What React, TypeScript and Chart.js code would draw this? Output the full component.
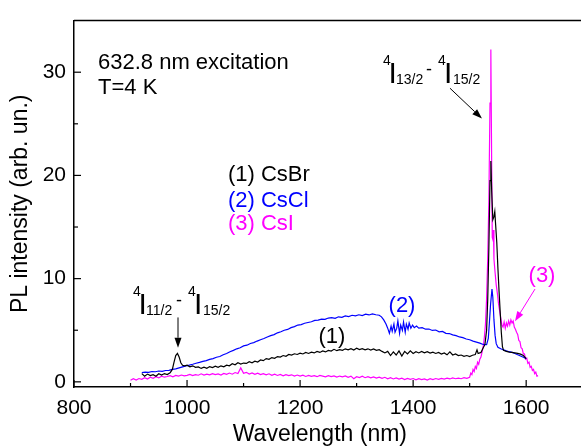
import React, { useEffect, useRef } from "react";
import { Chart, registerables } from "chart.js";

Chart.register(...registerables);

const FONT = "'Liberation Sans', Arial, Helvetica, sans-serif";

// ---- Spectra: [wavelength (nm), PL intensity (arb. un.)] ----
const csbrSpectrum: [number, number][] = [
  [920, 0.8], [925, 0.55], [930, 0.75], [935, 0.6], [940, 0.7], [945, 0.55], [950, 0.78], [955, 0.65],
  [960, 0.8], [965, 0.7], [970, 0.88], [974, 1.2], [977, 1.9], [980, 2.55], [983, 2.75], [986, 2.4],
  [989, 1.85], [992, 1.6], [996, 1.55], [1000, 1.62], [1005, 1.45], [1010, 1.55], [1015, 1.4], [1020, 1.45],
  [1025, 1.3], [1030, 1.42], [1035, 1.32], [1040, 1.48], [1045, 1.38], [1050, 1.52], [1055, 1.4], [1060, 1.55],
  [1065, 1.45], [1070, 1.62], [1075, 1.55], [1080, 1.75], [1085, 1.65], [1090, 1.85], [1095, 1.72], [1100, 1.82],
  [1105, 1.78], [1110, 1.95], [1115, 1.85], [1120, 2.0], [1125, 1.92], [1130, 2.12], [1135, 2.05], [1140, 2.25],
  [1145, 2.18], [1150, 2.35], [1155, 2.28], [1160, 2.45], [1165, 2.4], [1170, 2.55], [1175, 2.48], [1180, 2.65],
  [1185, 2.6], [1190, 2.72], [1195, 2.65], [1200, 2.78], [1205, 2.7], [1210, 2.85], [1215, 2.75], [1220, 2.88],
  [1225, 2.8], [1230, 2.95], [1235, 2.85], [1240, 3.0], [1245, 2.9], [1250, 3.05], [1255, 2.98], [1260, 3.15],
  [1265, 3.02], [1270, 3.12], [1275, 3.05], [1280, 3.2], [1285, 3.1], [1290, 3.22], [1295, 3.08], [1300, 3.25],
  [1305, 3.12], [1310, 3.22], [1315, 3.1], [1320, 3.2], [1325, 3.08], [1330, 3.18], [1335, 3.05], [1340, 3.12],
  [1345, 2.95], [1350, 2.8], [1355, 2.95], [1360, 2.55], [1365, 2.9], [1370, 2.6], [1375, 3.0], [1380, 2.5],
  [1385, 2.95], [1390, 2.7], [1395, 3.0], [1400, 2.75], [1405, 2.92], [1410, 2.8], [1415, 2.95], [1420, 2.82],
  [1425, 2.92], [1430, 2.78], [1435, 2.88], [1440, 2.75], [1445, 2.85], [1450, 2.7], [1455, 2.8], [1460, 2.62],
  [1465, 2.9], [1470, 2.6], [1475, 2.7], [1480, 2.55], [1485, 2.6], [1490, 2.48], [1495, 2.55], [1500, 2.45],
  [1505, 2.58], [1510, 2.65], [1513, 3.1], [1515, 2.75], [1520, 2.85], [1524, 3.3], [1527, 3.6], [1530, 5.0],
  [1532, 8.0], [1534, 13.0], [1536, 19.5], [1537.5, 21.4], [1539, 18.5], [1541, 15.7], [1543, 16.0], [1544.5, 16.5],
  [1546, 15.2], [1548, 13.5], [1550, 11.0], [1552, 8.8], [1554, 6.8], [1556, 4.8], [1558, 3.4], [1560, 3.05],
  [1565, 2.95], [1570, 2.88], [1575, 2.85], [1580, 2.8], [1585, 2.75], [1590, 2.68], [1595, 2.55], [1600, 2.25],
];

const csclSpectrum: [number, number][] = [
  [920, 0.9], [926, 0.95], [932, 0.92], [938, 1.0], [944, 0.98], [950, 1.05], [956, 1.02], [962, 1.1],
  [968, 1.12], [974, 1.2], [980, 1.25], [986, 1.35], [992, 1.45], [998, 1.55], [1004, 1.62], [1010, 1.7],
  [1016, 1.8], [1022, 1.88], [1028, 1.98], [1034, 2.05], [1040, 2.18], [1046, 2.25], [1052, 2.38], [1058, 2.45],
  [1064, 2.62], [1070, 2.75], [1076, 2.92], [1082, 3.05], [1088, 3.2], [1094, 3.3], [1100, 3.48], [1106, 3.55],
  [1112, 3.72], [1118, 3.8], [1124, 3.95], [1130, 4.08], [1136, 4.2], [1142, 4.35], [1148, 4.48], [1154, 4.58],
  [1160, 4.75], [1166, 4.85], [1172, 5.0], [1178, 5.08], [1184, 5.25], [1190, 5.35], [1196, 5.5], [1202, 5.55],
  [1208, 5.68], [1214, 5.75], [1220, 5.82], [1226, 5.95], [1232, 5.98], [1238, 6.08], [1244, 6.05], [1250, 6.18],
  [1256, 6.22], [1262, 6.15], [1268, 6.3], [1274, 6.25], [1280, 6.38], [1286, 6.32], [1292, 6.45], [1298, 6.4],
  [1304, 6.5], [1310, 6.42], [1316, 6.55], [1322, 6.48], [1328, 6.58], [1334, 6.5], [1340, 6.45], [1344, 6.3],
  [1348, 6.0], [1352, 5.6], [1355, 5.2], [1358, 4.7], [1361, 5.4], [1363, 4.9], [1366, 5.6], [1368, 4.8],
  [1371, 5.2], [1373, 5.9], [1376, 4.7], [1378, 5.5], [1381, 5.0], [1383, 5.8], [1386, 4.8], [1388, 5.6],
  [1391, 5.1], [1393, 5.7], [1396, 5.2], [1399, 5.5], [1402, 5.25], [1406, 5.4], [1410, 5.2], [1416, 5.25],
  [1422, 5.1], [1428, 5.12], [1434, 4.98], [1440, 5.02], [1446, 4.85], [1452, 4.88], [1458, 4.7], [1464, 4.68],
  [1470, 4.55], [1476, 4.48], [1482, 4.35], [1488, 4.28], [1494, 4.15], [1500, 4.08], [1506, 3.95], [1512, 3.85],
  [1518, 3.75], [1524, 3.62], [1530, 3.6], [1533, 4.2], [1535, 5.8], [1537, 7.5], [1539.5, 9.0], [1541, 8.2],
  [1543, 6.0], [1545, 4.5], [1547, 3.7], [1550, 3.35], [1555, 3.2], [1560, 3.1], [1565, 3.0], [1570, 2.92],
  [1575, 2.85], [1580, 2.75], [1585, 2.62], [1590, 2.5], [1595, 2.38], [1600, 2.25],
];

const csiSpectrum: [number, number][] = [
  [900, 0.15], [905, 0.3], [910, 0.18], [915, 0.32], [920, 0.25], [925, 0.4], [930, 0.28], [935, 0.45],
  [940, 0.35], [945, 0.5], [950, 0.38], [955, 0.55], [960, 0.45], [965, 0.52], [970, 0.6], [975, 0.48],
  [980, 0.62], [985, 0.55], [990, 0.66], [995, 0.58], [1000, 0.63], [1005, 0.72], [1010, 0.6], [1015, 0.7],
  [1020, 0.64], [1025, 0.78], [1030, 0.66], [1035, 0.74], [1040, 0.68], [1045, 0.8], [1050, 0.7], [1055, 0.76],
  [1060, 0.66], [1065, 0.82], [1070, 0.72], [1075, 0.85], [1080, 0.74], [1085, 0.9], [1090, 0.8], [1095, 1.35],
  [1100, 0.82], [1105, 0.92], [1110, 0.76], [1115, 0.86], [1120, 0.72], [1125, 0.84], [1130, 0.7], [1135, 0.8],
  [1140, 0.68], [1145, 0.78], [1150, 0.64], [1155, 0.74], [1160, 0.62], [1165, 0.72], [1170, 0.58], [1175, 0.7],
  [1180, 0.6], [1185, 0.68], [1190, 0.56], [1195, 0.66], [1200, 0.55], [1205, 0.64], [1210, 0.52], [1215, 0.62],
  [1220, 0.54], [1225, 0.6], [1230, 0.5], [1235, 0.62], [1240, 0.55], [1245, 0.48], [1250, 0.6], [1255, 0.5],
  [1260, 0.58], [1265, 0.46], [1270, 0.56], [1275, 0.48], [1280, 0.58], [1285, 0.44], [1290, 0.55], [1295, 0.3],
  [1300, 0.5], [1305, 0.42], [1310, 0.54], [1315, 0.4], [1320, 0.5], [1325, 0.38], [1330, 0.48], [1335, 0.36],
  [1340, 0.46], [1345, 0.34], [1350, 0.44], [1355, 0.3], [1360, 0.4], [1365, 0.28], [1370, 0.38], [1375, 0.26],
  [1380, 0.36], [1385, 0.22], [1390, 0.34], [1395, 0.24], [1400, 0.32], [1405, 0.2], [1410, 0.3], [1415, 0.22],
  [1420, 0.28], [1425, 0.18], [1430, 0.3], [1435, 0.22], [1440, 0.32], [1445, 0.24], [1450, 0.34], [1455, 0.26],
  [1460, 0.36], [1465, 0.28], [1470, 0.38], [1475, 0.3], [1480, 0.36], [1485, 0.3], [1490, 0.4], [1495, 0.34],
  [1500, 0.45], [1502, 0.85], [1504, 0.7], [1506, 1.2], [1508, 1.0], [1510, 1.5], [1512, 1.3], [1514, 1.9],
  [1516, 1.7], [1518, 2.2], [1520, 2.4], [1522, 2.9], [1524, 3.4], [1526, 4.3], [1528, 5.6], [1530, 8.1],
  [1532, 12.0], [1534, 17.6], [1536, 27.0], [1537.5, 32.2], [1539, 20.7], [1540, 14.0], [1541, 13.8], [1542, 14.7],
  [1543, 11.9], [1545, 10.6], [1547, 9.4], [1549, 8.6], [1551, 7.6], [1553, 6.9], [1555, 6.2], [1557, 5.5],
  [1559, 5.3], [1561, 5.8], [1563, 5.2], [1565, 5.7], [1567, 5.4], [1569, 5.9], [1571, 5.5], [1573, 6.0],
  [1575, 5.7], [1577, 5.9], [1579, 5.3], [1581, 5.1], [1583, 4.8], [1585, 4.6], [1587, 4.0], [1589, 3.9],
  [1591, 3.3], [1593, 3.2], [1595, 2.7], [1597, 2.7], [1599, 2.2], [1601, 2.3], [1603, 1.8], [1605, 1.9],
  [1607, 1.4], [1609, 1.5], [1611, 1.1], [1613, 1.2], [1615, 0.8], [1617, 0.95], [1619, 0.55], [1621, 0.6],
];

// ---- Axes ----
const xMajorTicks = [800, 1000, 1200, 1400, 1600];
const xMinorTicks = [900, 1100, 1300, 1500, 1700];
const yMajorTicks = [0, 10, 20, 30];
const yMinorTicks = [5, 15, 25];
const X_MIN = 800;
const X_MAX = 1697;
const Y_MIN = -0.5;
const Y_MAX = 35;

const xTitle = "Wavelength (nm)";
const yTitle = "PL intensity (arb. un.)";

const BLACK = "#000000";
const BLUE = "#0000ff";
const MAGENTA = "#ff00ff";

const toPoints = (s: [number, number][]) => s.map(([x, y]) => ({ x, y }));

const annotationPlugin = {
  id: "figureAnnotations",
  afterDraw(chart: any) {
    const { ctx, chartArea } = chart;
    const xs = chart.scales.x;
    const ys = chart.scales.y;
    const X = (v: number) => xs.getPixelForValue(v);
    const Y = (v: number) => ys.getPixelForValue(v);
    ctx.save();

    // frame top line
    ctx.strokeStyle = BLACK;
    ctx.lineWidth = 1.5;
    ctx.beginPath();
    ctx.moveTo(chartArea.left, chartArea.top);
    ctx.lineTo(chartArea.right, chartArea.top);
    ctx.stroke();

    // inward ticks
    ctx.lineWidth = 1.2;
    const tickX = (v: number, len: number) => {
      const px = X(v);
      ctx.beginPath();
      ctx.moveTo(px, chartArea.bottom);
      ctx.lineTo(px, chartArea.bottom - len);
      ctx.stroke();
    };
    const tickY = (v: number, len: number) => {
      const py = Y(v);
      ctx.beginPath();
      ctx.moveTo(chartArea.left, py);
      ctx.lineTo(chartArea.left + len, py);
      ctx.stroke();
    };
    xMajorTicks.forEach((v) => tickX(v, 7));
    xMinorTicks.forEach((v) => tickX(v, 4));
    yMajorTicks.forEach((v) => tickY(v, 7));
    yMinorTicks.forEach((v) => tickY(v, 4));

    const text = (s: string, nm: number, val: number, color: string, size: number, align: CanvasTextAlign = "left") => {
      ctx.fillStyle = color;
      ctx.font = `${size}px ${FONT}`;
      ctx.textAlign = align;
      ctx.textBaseline = "alphabetic";
      ctx.fillText(s, X(nm), Y(val));
    };

    const arrow = (nm1: number, v1: number, nm2: number, v2: number, color: string) => {
      const x1 = X(nm1), y1 = Y(v1), x2 = X(nm2), y2 = Y(v2);
      const ang = Math.atan2(y2 - y1, x2 - x1);
      const L = 10, W = 3.5;
      const bx = x2 - L * Math.cos(ang), by = y2 - L * Math.sin(ang);
      ctx.strokeStyle = color;
      ctx.fillStyle = color;
      ctx.lineWidth = 1;
      ctx.beginPath();
      ctx.moveTo(x1, y1);
      ctx.lineTo(bx, by);
      ctx.stroke();
      ctx.beginPath();
      ctx.moveTo(x2, y2);
      ctx.lineTo(bx + W * Math.sin(ang), by - W * Math.cos(ang));
      ctx.lineTo(bx - W * Math.sin(ang), by + W * Math.cos(ang));
      ctx.closePath();
      ctx.fill();
    };

    const transition = (nm: number, val: number, lower: string, upper: string) => {
      const x0 = X(nm), yb = Y(val);
      ctx.fillStyle = BLACK;
      ctx.textAlign = "left";
      ctx.textBaseline = "alphabetic";
      const put = (s: string, dx: number, dy: number, size: number) => {
        ctx.font = `${size}px ${FONT}`;
        ctx.fillText(s, x0 + dx, yb + dy);
      };
      put("4", 0, -18, 14);
      put("I", 5.5, 0, 30);
      put(lower, 13, 1, 14);
      put("-", 43, -8, 18);
      put("4", 55, -18, 14);
      put("I", 61, 0, 30);
      put(upper, 70, 1, 14);
    };

    text("632.8 nm excitation", 842.5, 30.35, BLACK, 22);
    text("T=4 K", 842.5, 27.88, BLACK, 22);
    text("(1) CsBr", 1072.4, 19.43, BLACK, 22);
    text("(2) CsCl", 1072.4, 16.97, BLUE, 22);
    text("(3) CsI", 1072.4, 14.69, MAGENTA, 22);
    text("(1)", 1256.4, 3.77, BLACK, 22, "center");
    text("(2)", 1380.3, 6.81, BLUE, 22, "center");
    text("(3)", 1628, 9.66, MAGENTA, 22, "center");

    transition(1346.7, 28.93, "13/2", "15/2");
    transition(904.4, 6.62, "11/2", "15/2");

    arrow(1465.2, 28.45, 1521.8, 25.51, BLACK);
    arrow(984, 6.24, 984, 3.3, BLACK);
    arrow(1615.6, 8.99, 1580.2, 5.86, MAGENTA);

    // x axis title
    ctx.fillStyle = BLACK;
    ctx.font = `23px ${FONT}`;
    ctx.textAlign = "center";
    ctx.textBaseline = "alphabetic";
    ctx.fillText(xTitle, X(1235), chart.height - 5.5);

    ctx.restore();
  },
};

export default function App() {
  const ref = useRef<HTMLCanvasElement>(null);
  useEffect(() => {
    const canvas = ref.current;
    if (!canvas) return;
    const lineDs = (label: string, data: [number, number][], color: string) => ({
      label,
      data: toPoints(data),
      borderColor: color,
      backgroundColor: color,
      borderWidth: 1.2,
      pointRadius: 0,
      showLine: true,
      fill: false,
      tension: 0,
    });
    const chart = new Chart(canvas, {
      type: "scatter",
      data: {
        datasets: [
          lineDs("(1) CsBr", csbrSpectrum, BLACK),
          lineDs("(2) CsCl", csclSpectrum, BLUE),
          lineDs("(3) CsI", csiSpectrum, MAGENTA),
        ],
      },
      options: {
        responsive: false,
        animation: false,
        devicePixelRatio: 1,
        layout: { padding: { top: 13, left: 0, right: 0, bottom: 0 } },
        plugins: { legend: { display: false }, tooltip: { enabled: false } },
        scales: {
          x: {
            type: "linear",
            min: X_MIN,
            max: X_MAX,
            afterBuildTicks: (scale: any) => {
              scale.ticks = xMajorTicks.map((value) => ({ value }));
            },
            afterFit: (scale: any) => {
              scale.height = 59;
            },
            grid: { display: false, drawTicks: false },
            border: { display: true, color: BLACK, width: 1.5 },
            ticks: {
              color: BLACK,
              font: { family: FONT, size: 21 },
              padding: 9,
              maxRotation: 0,
              autoSkip: false,
              callback: (v: any) => String(v),
            },
          },
          y: {
            type: "linear",
            min: Y_MIN,
            max: Y_MAX,
            afterBuildTicks: (scale: any) => {
              scale.ticks = yMajorTicks.map((value) => ({ value }));
            },
            afterFit: (scale: any) => {
              scale.width = 74;
            },
            grid: { display: false, drawTicks: false },
            border: { display: true, color: BLACK, width: 1.5 },
            ticks: {
              color: BLACK,
              font: { family: FONT, size: 21 },
              padding: 8,
              autoSkip: false,
              callback: (v: any) => String(v),
            },
            title: {
              display: true,
              text: yTitle,
              color: BLACK,
              font: { family: FONT, size: 23 },
              padding: { top: 7, bottom: 0 },
            },
          },
        },
      },
      plugins: [annotationPlugin],
    } as any);
    return () => chart.destroy();
  }, []);
  return (
    <div style={{ position: "absolute", left: 0, top: 0, width: 581, height: 446, background: "#fff" }}>
      <canvas ref={ref} width={581} height={446} style={{ display: "block", width: 581, height: 446 }} />
    </div>
  );
}
